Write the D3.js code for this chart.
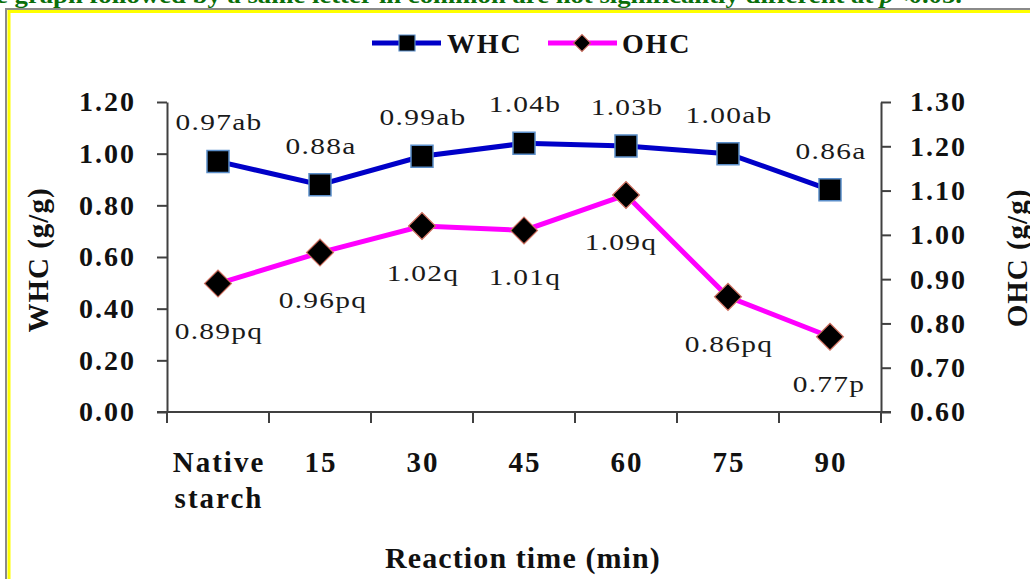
<!DOCTYPE html>
<html>
<head>
<meta charset="utf-8">
<script src="https://cdn.jsdelivr.net/npm/d3@7"></script>
<style>
  html, body { margin: 0; padding: 0; background: #fff; }
  svg { display: block; }
  text { font-family: "Liberation Serif", "Times New Roman", serif; }
</style>
</head>
<body>
<svg id="chart" width="1030" height="579"></svg>
<script>
// ---- data ----
const categories = ["Native starch", "15", "30", "45", "60", "75", "90"];
const whcValues = [0.97, 0.88, 0.99, 1.04, 1.03, 1.00, 0.86];
const ohcValues = [0.89, 0.96, 1.02, 1.01, 1.09, 0.86, 0.77];
const whcLetters = ["ab", "a", "ab", "b", "b", "ab", "a"];
const ohcLetters = ["pq", "pq", "q", "q", "q", "pq", "p"];
const leftTicks = [0.00, 0.20, 0.40, 0.60, 0.80, 1.00, 1.20];
const rightTicks = [0.60, 0.70, 0.80, 0.90, 1.00, 1.10, 1.20, 1.30];

const svg = d3.select("#chart");
const axisColor = "#404040";

// frame
svg.append("rect").attr("x", 6).attr("y", 9).attr("width", 1100).attr("height", 700)
  .attr("fill", "none").attr("stroke", "#8a8a8a").attr("stroke-width", 2);
svg.append("rect").attr("x", 9).attr("y", 11.5).attr("width", 1100).attr("height", 700)
  .attr("fill", "none").attr("stroke", "#ffff00").attr("stroke-width", 3);

// clipped caption on top
const cap = svg.append("text").attr("x", -4).attr("y", 3)
  .attr("fill", "#0a6e0a").attr("font-weight", "bold").attr("font-size", 24)
  .attr("textLength", 966).attr("lengthAdjust", "spacingAndGlyphs");
cap.append("tspan").text("e graph followed by a same letter in common are not significantly different at ");
cap.append("tspan").attr("font-style", "italic").text("p");
cap.append("tspan").text("<0.05.");

// scales
const x = d3.scaleBand().domain(categories).range([167, 881]).padding(0);
const yL = d3.scaleLinear().domain([0, 1.2]).range([412, 102]);
const yR = d3.scaleLinear().domain([0.6, 1.3]).range([412, 102]);
const cx = d => x(d) + x.bandwidth() / 2;

// left axis
const gL = svg.append("g").attr("transform", "translate(167,0)")
  .call(d3.axisLeft(yL).tickValues(leftTicks).tickFormat(d3.format(".2f"))
    .tickSize(10).tickSizeOuter(0).tickPadding(21));
// right axis
const gR = svg.append("g").attr("transform", "translate(881,0)")
  .call(d3.axisRight(yR).tickValues(rightTicks).tickFormat(d3.format(".2f"))
    .tickSize(10).tickSizeOuter(0).tickPadding(19));
[gL, gR].forEach(g => {
  g.select(".domain").attr("stroke", axisColor).attr("stroke-width", 2);
  g.selectAll(".tick line").attr("stroke", axisColor).attr("stroke-width", 2);
  g.selectAll(".tick text").attr("fill", "#111").attr("font-size", 28)
    .attr("font-weight", "bold").attr("font-family", "Liberation Serif")
    .attr("letter-spacing", 2);
});
// extend vertical axes to below baseline
svg.append("line").attr("x1", 167).attr("x2", 167).attr("y1", yL(0)).attr("y2", yL(0) + 11)
  .attr("stroke", axisColor).attr("stroke-width", 2);
svg.append("line").attr("x1", 881).attr("x2", 881).attr("y1", yL(0)).attr("y2", yL(0) + 11)
  .attr("stroke", axisColor).attr("stroke-width", 2);

// x axis
const baseY = yL(0);
svg.append("line").attr("x1", 157).attr("x2", 891).attr("y1", baseY).attr("y2", baseY)
  .attr("stroke", axisColor).attr("stroke-width", 2);
const boundaries = categories.map(c => x(c)).concat([x.range()[1]]);
svg.append("g").selectAll("line").data(boundaries).join("line")
  .attr("x1", d => d).attr("x2", d => d).attr("y1", baseY).attr("y2", baseY + 11)
  .attr("stroke", axisColor).attr("stroke-width", 2);
const xl = svg.append("g").selectAll("text").data(categories).join("text")
  .attr("text-anchor", "middle").attr("font-size", 29).attr("font-weight", "bold")
  .attr("fill", "#111").attr("letter-spacing", 2);
xl.each(function(d) {
  const t = d3.select(this);
  const parts = d.split(" ");
  parts.forEach((p, i) => {
    t.append("tspan").attr("x", cx(d) + 1).attr("y", 472 + i * 36).text(p);
  });
});

// axis titles
svg.append("text").attr("transform", "translate(48,260) rotate(-90)")
  .attr("text-anchor", "middle").attr("font-size", 29).attr("font-weight", "bold")
  .attr("fill", "#111").attr("letter-spacing", 1).text("WHC (g/g)");
svg.append("text").attr("transform", "translate(1027,258) rotate(-90)")
  .attr("text-anchor", "middle").attr("font-size", 29).attr("font-weight", "bold")
  .attr("fill", "#111").attr("letter-spacing", 1).text("OHC (g/g)");
svg.append("text").attr("x", 523).attr("y", 568)
  .attr("text-anchor", "middle").attr("font-size", 30).attr("font-weight", "bold")
  .attr("fill", "#111").attr("letter-spacing", 1.1).text("Reaction time (min)");

// lines
const blue = "#0000c8", magenta = "#ff00ff";
const whcData = categories.map((c, i) => ({c, v: whcValues[i], l: whcLetters[i]}));
const ohcData = categories.map((c, i) => ({c, v: ohcValues[i], l: ohcLetters[i]}));

svg.append("path").datum(whcData)
  .attr("d", d3.line().x(d => cx(d.c)).y(d => yL(d.v)))
  .attr("fill", "none").attr("stroke", blue).attr("stroke-width", 5);
svg.append("path").datum(ohcData)
  .attr("d", d3.line().x(d => cx(d.c)).y(d => yR(d.v)))
  .attr("fill", "none").attr("stroke", magenta).attr("stroke-width", 5);

const sq = d3.symbol(d3.symbolSquare, 22 * 22);
const dm = d3.symbol(d3.symbolSquare, 19 * 19);

svg.append("g").selectAll("path").data(whcData).join("path")
  .attr("d", sq).attr("transform", d => `translate(${cx(d.c)},${yL(d.v)})`)
  .attr("fill", "#000").attr("stroke", "#5b8ec9").attr("stroke-width", 1.5);
svg.append("g").selectAll("path").data(ohcData).join("path")
  .attr("d", dm).attr("transform", d => `translate(${cx(d.c)},${yR(d.v)}) rotate(45)`)
  .attr("fill", "#000").attr("stroke", "#d07060").attr("stroke-width", 1.2);

// data labels (horizontally stretched like the reference)
const fmt = d3.format(".2f");
const stretch = 1.28;
svg.append("g").selectAll("text").data(whcData).join("text")
  .attr("transform", d => `translate(${cx(d.c) + 1},${yL(d.v) - 31}) scale(${stretch},1)`)
  .attr("text-anchor", "middle").attr("font-size", 23).attr("fill", "#1a1a1a")
  .attr("letter-spacing", 1).text(d => fmt(d.v) + d.l);
const ohcDx = [0, 2, 0, 0, -6, 0, -2];
svg.append("g").selectAll("text").data(ohcData).join("text")
  .attr("transform", (d, i) => `translate(${cx(d.c) + ohcDx[i] + 1},${yR(d.v) + 55}) scale(${stretch},1)`)
  .attr("text-anchor", "middle").attr("font-size", 23).attr("fill", "#1a1a1a")
  .attr("letter-spacing", 1).text(d => fmt(d.v) + d.l);

// legend
const lg = svg.append("g");
lg.append("line").attr("x1", 372).attr("x2", 441).attr("y1", 43).attr("y2", 43)
  .attr("stroke", blue).attr("stroke-width", 5);
lg.append("path").attr("d", d3.symbol(d3.symbolSquare, 16 * 16))
  .attr("transform", "translate(407,43)").attr("fill", "#000")
  .attr("stroke", "#5b8ec9").attr("stroke-width", 1.2);
lg.append("text").attr("x", 447).attr("y", 53).attr("font-size", 28).attr("font-weight", "bold")
  .attr("fill", "#111").attr("letter-spacing", 1.8).text("WHC");
lg.append("line").attr("x1", 548).attr("x2", 617).attr("y1", 43).attr("y2", 43)
  .attr("stroke", magenta).attr("stroke-width", 5);
lg.append("path").attr("d", d3.symbol(d3.symbolSquare, 12 * 12))
  .attr("transform", "translate(582,43) rotate(45)").attr("fill", "#000")
  .attr("stroke", "#d07060").attr("stroke-width", 1);
lg.append("text").attr("x", 622).attr("y", 53).attr("font-size", 28).attr("font-weight", "bold")
  .attr("fill", "#111").attr("letter-spacing", 1.8).text("OHC");
</script>
</body>
</html>
